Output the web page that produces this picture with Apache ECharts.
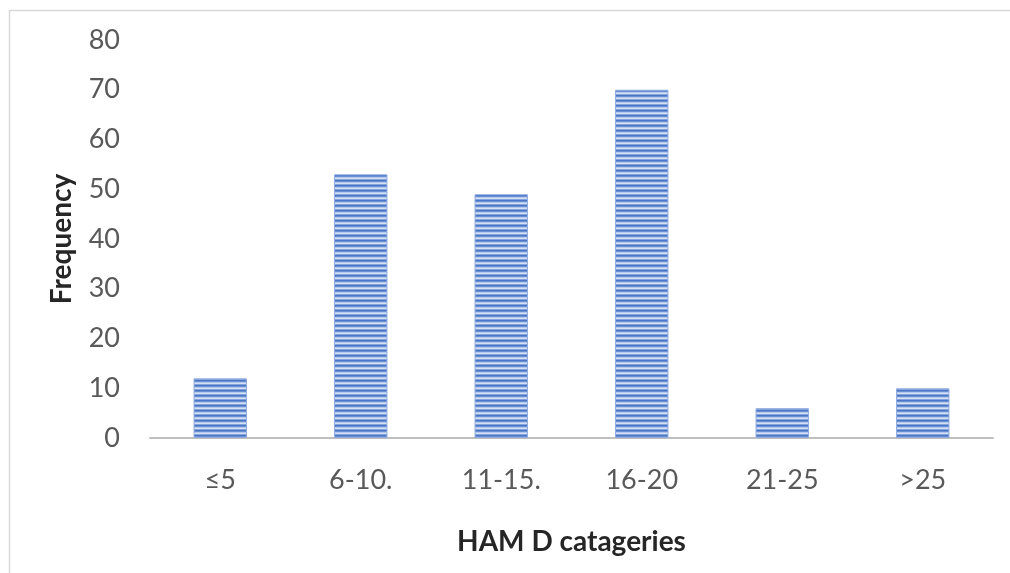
<!DOCTYPE html>
<html>
<head>
<meta charset="utf-8">
<style>
  html, body { margin: 0; padding: 0; background: #ffffff; }
  #chart { width: 1010px; height: 573px; }
</style>
<script src="https://cdn.jsdelivr.net/npm/echarts@6/dist/echarts.min.js"></script>
</head>
<body>
<div id="chart"></div>
<script>
// HAM-D score categories and how many patients fell into each
const categories = ['≤5', '6-10.', '11-15.', '16-20', '21-25', '>25'];
const frequency = [12, 53, 49, 70, 6, 10];
const yTicks = { min: 0, max: 80, interval: 10 };

// Horizontal striped fill for the bars
function stripePattern() {
  const c = document.createElement('canvas');
  c.width = 8; c.height = 5;
  const ctx = c.getContext('2d');
  const rows = ['#4a76c6', '#6a8fd3', '#b4c8ec', '#d6e1f5', '#86a4dc'];
  rows.forEach((col, i) => { ctx.fillStyle = col; ctx.fillRect(0, i, 8, 1); });
  return c;
}

const chart = echarts.init(document.getElementById('chart'));
const font = 'Lato, "Open Sans", sans-serif';

chart.setOption({
  animation: false,
  backgroundColor: '#ffffff',
  graphic: [{
    type: 'rect',
    left: 7, top: 8,
    shape: { width: 1100, height: 1000 },
    style: { fill: 'none', stroke: '#d9d9d9', lineWidth: 1.5 },
    silent: true
  }],
  grid: { left: 150, right: 17, top: 40, bottom: 135 },
  xAxis: {
    type: 'category',
    data: categories,
    name: 'HAM D catageries',
    nameLocation: 'middle',
    nameGap: 90,
    nameTextStyle: { fontFamily: font, fontSize: 28, fontWeight: 'bold', color: '#262626' },
    axisLine: { lineStyle: { color: '#bfbfbf', width: 2 } },
    axisTick: { show: false },
    axisLabel: { fontFamily: font, fontSize: 27, color: '#595959', margin: 29 }
  },
  yAxis: {
    type: 'value',
    min: yTicks.min, max: yTicks.max, interval: yTicks.interval,
    name: 'Frequency',
    nameLocation: 'middle',
    nameGap: 74,
    nameTextStyle: { fontFamily: font, fontSize: 28, fontWeight: 'bold', color: '#262626' },
    axisLine: { show: false },
    axisTick: { show: false },
    splitLine: { show: false },
    axisLabel: { fontFamily: font, fontSize: 27, color: '#595959', margin: 30 }
  },
  series: [{
    type: 'bar',
    data: frequency,
    barCategoryGap: '62%',
    itemStyle: {
      color: { image: stripePattern(), repeat: 'repeat' },
      borderColor: '#8eaadf',
      borderWidth: 1
    }
  }]
});
</script>
</body>
</html>
